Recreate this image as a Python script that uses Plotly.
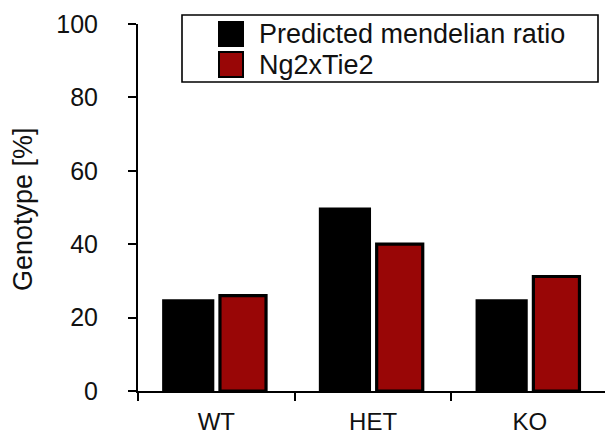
import plotly.graph_objects as go

categories = ["WT", "HET", "KO"]
series_names = ["Predicted mendelian ratio", "Ng2xTie2"]
predicted = [25, 50, 25]
ng2xtie2 = [26, 40, 31.2]
y_ticks = [0, 20, 40, 60, 80, 100]

W, H = 605, 436
ML, MR, MT, MB = 138, 0, 24, 45
PW, PH = W - ML - MR, H - MT - MB
FONT = "Liberation Sans, Arial, Helvetica, sans-serif"
RED = "#990606"

def px(x):
    return (x - ML) / PW

def py(y):
    return (H - MB - y) / PH

fig = go.Figure()
fig.add_trace(go.Bar(
    x=categories, y=predicted, name=series_names[0],
    marker=dict(color="black", line=dict(width=0)),
    width=0.333, offset=-0.346, showlegend=False,
))
fig.add_trace(go.Bar(
    x=categories, y=ng2xtie2, name=series_names[1],
    marker=dict(color=RED, line=dict(color="black", width=3.2)),
    width=0.294, offset=0.023, showlegend=False,
))

fig.update_layout(
    width=W, height=H,
    margin=dict(l=ML, r=MR, t=MT, b=MB, pad=0, autoexpand=False),
    plot_bgcolor="white", paper_bgcolor="white",
    font=dict(family=FONT, size=25, color="#111"),
    barmode="group",
    xaxis=dict(
        type="category", range=[-0.5, 2.48], tickson="boundaries",
        showline=True, linecolor="black", linewidth=2,
        ticks="outside", ticklen=8, tickwidth=2, tickcolor="black",
        showgrid=False, zeroline=False, ticklabelstandoff=8,
        tickfont=dict(size=24), automargin=False,
    ),
    yaxis=dict(
        range=[0, 100], tickvals=y_ticks,
        showline=True, linecolor="black", linewidth=2,
        ticks="outside", ticklen=8, tickwidth=2, tickcolor="black",
        showgrid=False, zeroline=False, ticklabelstandoff=25,
        tickfont=dict(size=25), automargin=False,
    ),
)

# y-axis title
fig.add_annotation(
    text="Genotype [%]", xref="paper", yref="paper",
    x=px(23), y=py(209), xanchor="center", yanchor="middle",
    textangle=-90, showarrow=False, font=dict(size=27, color="#111"),
)

# legend box
fig.add_shape(type="rect", xref="paper", yref="paper",
              x0=px(182), x1=px(598), y0=py(82), y1=py(15),
              line=dict(color="black", width=1.6), fillcolor="white", layer="above")
legend_colors = ["black", RED]
legend_rows = [(22, 46), (52, 77)]
for name, col, (t, b) in zip(series_names, legend_colors, legend_rows):
    fig.add_shape(type="rect", xref="paper", yref="paper",
                  x0=px(219), x1=px(243), y0=py(b), y1=py(t),
                  line=dict(color="black", width=2), fillcolor=col, layer="above")
    fig.add_annotation(text=name, xref="paper", yref="paper",
                       x=px(257), y=py((t + b) / 2), xanchor="left", yanchor="middle",
                       showarrow=False, font=dict(size=27, color="#111"))

fig.write_html("out.html")
